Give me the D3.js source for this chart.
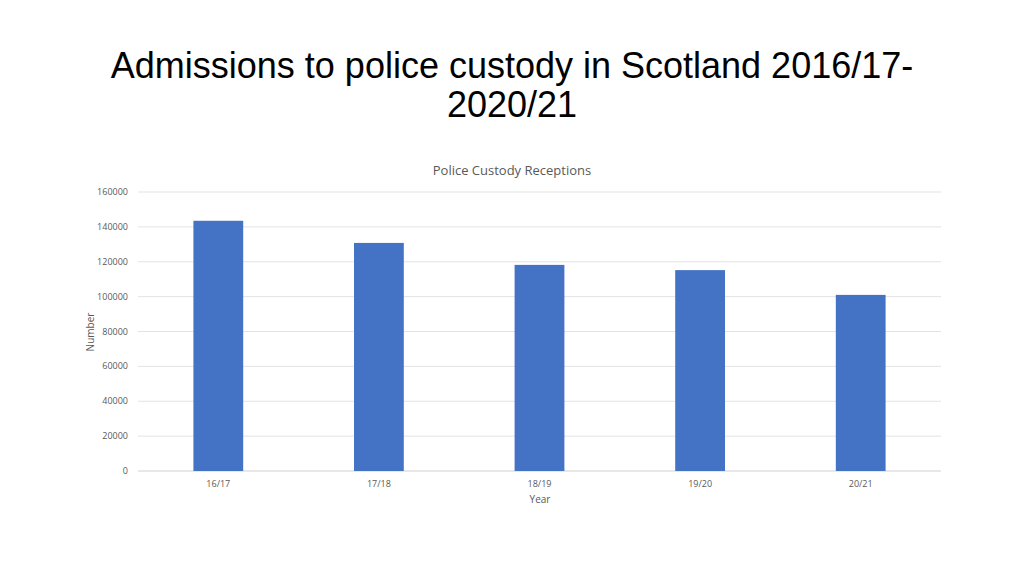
<!DOCTYPE html>
<html><head><meta charset="utf-8">
<script src="https://cdn.jsdelivr.net/npm/d3@7"></script>
<style>body{margin:0;background:#fff}</style></head>
<body><svg id="c" width="1024" height="576"></svg>
<script>
const categories = ["16/17","17/18","18/19","19/20","20/21"];
const values = [143500, 130800, 118200, 115200, 101000];
const yTicks = [0,20000,40000,60000,80000,100000,120000,140000,160000];

const svg = d3.select("#c");
const m = {l:138, r:941, t:192, b:471};
const x = d3.scaleBand().domain(categories).range([m.l, m.r]).padding(0);
const y = d3.scaleLinear().domain([0,160000]).range([m.b, m.t]);

svg.append("text").attr("x",512).attr("y",78).attr("text-anchor","middle")
  .attr("font-family","Liberation Sans, Arial").attr("font-size",36).attr("fill","#000")
  .text("Admissions to police custody in Scotland 2016/17-");
svg.append("text").attr("x",512).attr("y",117).attr("text-anchor","middle")
  .attr("font-family","Liberation Sans, Arial").attr("font-size",36).attr("fill","#000")
  .text("2020/21");

svg.append("text").attr("x",512).attr("y",175).attr("text-anchor","middle")
  .attr("font-family","Open Sans, Calibri, sans-serif").attr("font-size",13).attr("fill","#595959")
  .text("Police Custody Receptions");

const g = svg.append("g").attr("font-family","Open Sans, sans-serif");
yTicks.forEach(t=>{
  g.append("line").attr("x1",m.l).attr("x2",m.r).attr("y1",y(t)).attr("y2",y(t))
   .attr("stroke", t===0 ? "#d0d0d0" : "#e3e3e3").attr("stroke-width",1);
  g.append("text").attr("x",128).attr("y",y(t)+3).attr("text-anchor","end")
   .attr("font-size",9).attr("fill","#595959").text(t);
});
const bw = x.bandwidth()*0.31;
g.selectAll("rect.bar").data(values).join("rect")
  .attr("x",(d,i)=>x(categories[i])+x.bandwidth()/2-bw/2)
  .attr("y",d=>y(d)).attr("width",bw).attr("height",d=>y(0)-y(d))
  .attr("fill","#4472c4");
categories.forEach(c=>{
  g.append("text").attr("x",x(c)+x.bandwidth()/2).attr("y",487).attr("text-anchor","middle")
   .attr("font-size",9).attr("fill","#595959").text(c);
});
g.append("text").attr("x",540).attr("y",503).attr("text-anchor","middle")
  .attr("font-size",10).attr("fill","#595959").text("Year");
g.append("text").attr("transform","translate(94,332) rotate(-90)").attr("text-anchor","middle")
  .attr("font-size",10).attr("fill","#595959").text("Number");
</script></body></html>
